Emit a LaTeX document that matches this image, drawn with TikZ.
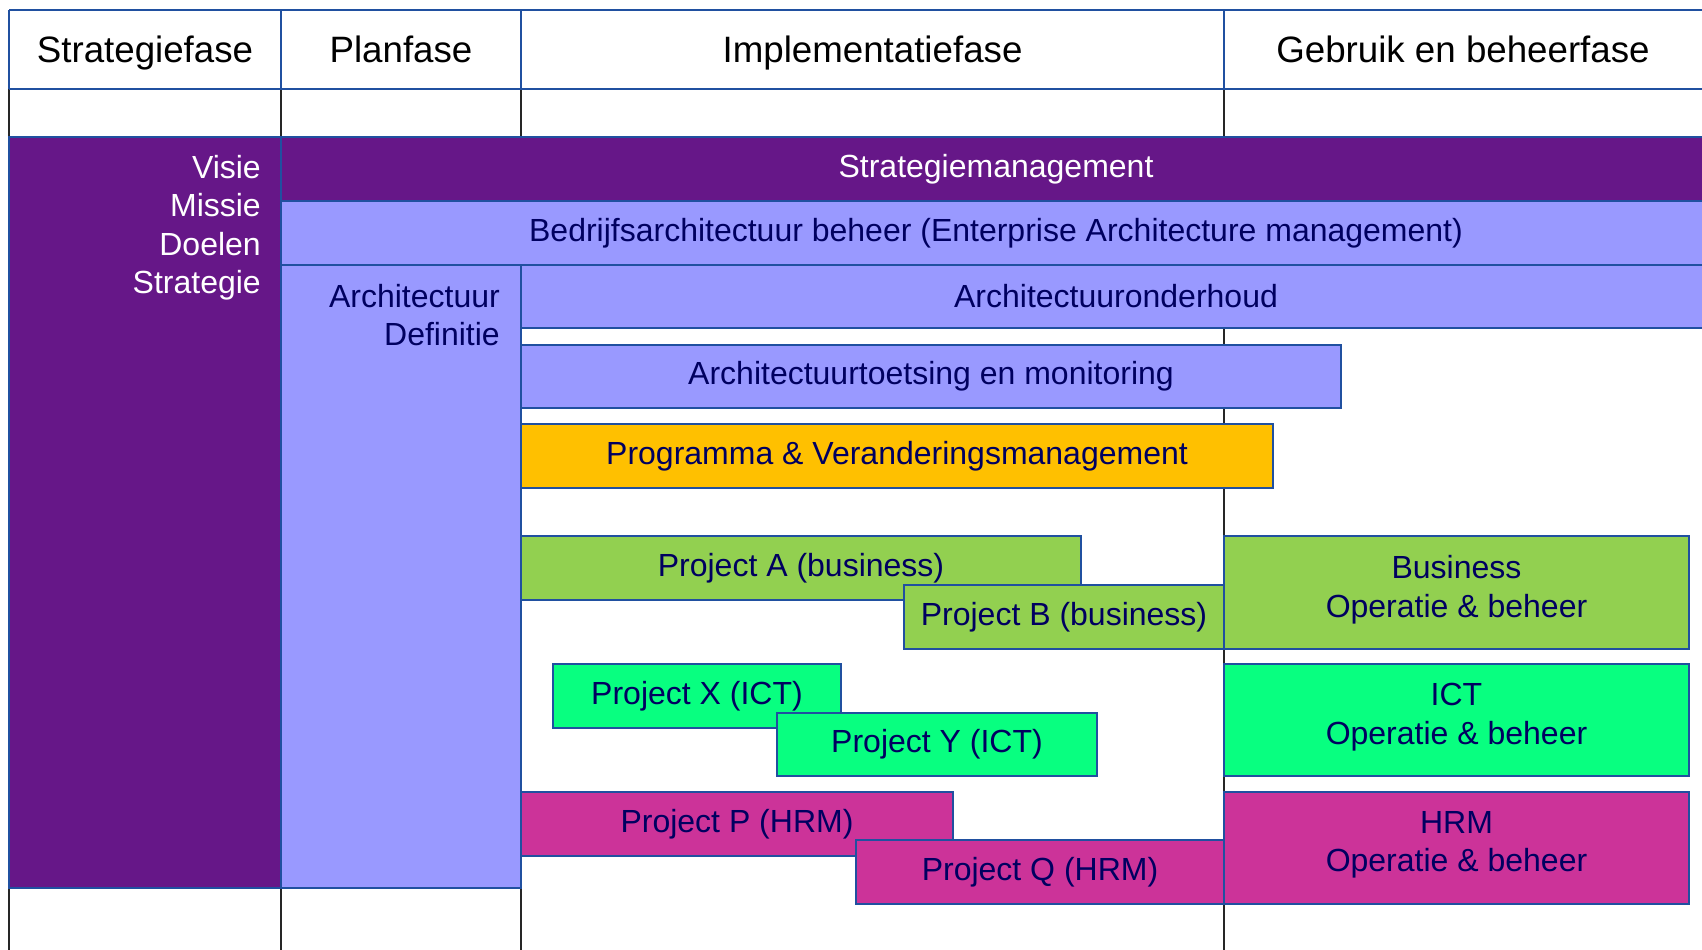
\documentclass[tikz,border=0pt]{standalone}
\usepackage{fontspec}
\setmainfont{Liberation Sans}
\definecolor{paars}{HTML}{661788}
\definecolor{lila}{HTML}{9999FF}
\definecolor{groen}{HTML}{92D050}
\definecolor{felgroen}{HTML}{08FF80}
\definecolor{roze}{HTML}{CC3399}
\definecolor{oranje}{HTML}{FFC000}
\definecolor{lijn}{HTML}{2050A0}
\definecolor{inkt}{HTML}{000060}
\tikzset{
  bar/.style={draw=lijn, line width=2.5pt, outer sep=0pt, inner sep=0pt, anchor=north west, text=inkt, align=center, font=\fontsize{32}{38.5}\selectfont},
  head/.style={text=black, text height=26.5pt, text depth=7.7pt, font=\fontsize{36.7}{44}\selectfont},
  lbl/.style={inner sep=0pt, align=right, anchor=north east, font=\fontsize{32}{38.5}\selectfont},
  oplbl/.style={inner sep=0pt, align=center, text=inkt, yshift=3pt, font=\fontsize{32}{38.5}\selectfont},
  grid/.style={draw=black!85, line width=2pt},
  hline/.style={draw=lijn, line width=2.5pt}
}
\begin{document}
\begin{tikzpicture}[x=1pt,y=-1pt]
    \useasboundingbox (0,0) rectangle (1702,950);
    \foreach \x in {9,281,521,1224}
      \draw[grid] (\x,89) -- (\x,950);
    \foreach \x in {9,281,521,1224}
      \draw[hline] (\x,10) -- (\x,89);
    \draw[hline] (9,10) -- (1710,10);
    \draw[hline] (9,89) -- (1710,89);
    \node[head] (hstrat) at (145,53.5) {Strategiefase};
    \node[head] (hplan) at (401,53.5) {Planfase};
    \node[head] (himpl) at (872.5,53.5) {Implementatiefase};
    \node[head] (hbeheer) at (1463,53.5) {Gebruik en beheerfase};
    \node[bar, fill=paars, minimum width=272, minimum height=751] (visie) at (9,137) {};
    \node[bar, fill=paars, text=white, minimum width=1430, minimum height=64] (stratman) at (281,137) {Strategiemanagement};
    \node[bar, fill=lila, minimum width=1430, minimum height=64] (ea) at (281,201) {Bedrijfsarchitectuur beheer (Enterprise Architecture management)};
    \node[bar, fill=lila, minimum width=240, minimum height=623] (archdef) at (281,265) {};
    \node[bar, fill=lila, minimum width=1190, minimum height=63] (onderhoud) at (521,265) {Architectuuronderhoud};
    \node[bar, fill=lila, minimum width=820, minimum height=63] (toetsing) at (521,345) {Architectuurtoetsing en monitoring};
    \node[bar, fill=oranje, minimum width=752, minimum height=64] (programma) at (521,424) {Programma \& Veranderingsmanagement};
    \node[bar, fill=groen, minimum width=560, minimum height=64] (pa) at (521,536) {Project A (business)};
    \node[bar, fill=groen, minimum width=320, minimum height=64] (pb) at (904,585) {Project B (business)};
    \node[bar, fill=groen, minimum width=465, minimum height=113] (bus) at (1224,536) {};
    \node[bar, fill=felgroen, minimum width=288, minimum height=64] (px) at (553,664) {Project X (ICT)};
    \node[bar, fill=felgroen, minimum width=320, minimum height=63] (py) at (777,713) {Project Y (ICT)};
    \node[bar, fill=felgroen, minimum width=465, minimum height=112] (ict) at (1224,664) {};
    \node[bar, fill=roze, minimum width=432, minimum height=64] (pp) at (521,792) {Project P (HRM)};
    \node[bar, fill=roze, minimum width=368, minimum height=64] (pq) at (856,840) {Project Q (HRM)};
    \node[bar, fill=roze, minimum width=465, minimum height=112] (hrm) at (1224,792) {};
    \node[oplbl] (bustxt) at (bus.center) {Business\\Operatie \& beheer};
    \node[oplbl] (icttxt) at (ict.center) {ICT\\Operatie \& beheer};
    \node[oplbl] (hrmtxt) at (hrm.center) {HRM\\Operatie \& beheer};
    \node[lbl, text=white] (visietxt) at (261,155) {Visie\\Missie\\Doelen\\Strategie};
    \node[lbl, text=inkt] (archtxt) at (500,284) {Architectuur\\Definitie};
\end{tikzpicture}
\end{document}
